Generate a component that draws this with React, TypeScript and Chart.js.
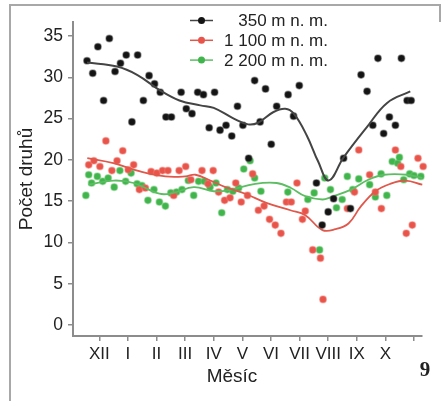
import React, { useEffect, useRef } from "react";
import { Chart, registerables } from "chart.js";

Chart.register(...registerables);

// ---- data ----
const monthLabels = ["XII", "I", "II", "III", "IV", "V", "VI", "VII", "VIII", "IX", "X", ""];
const yTickValues = [0, 5, 10, 15, 20, 25, 30, 35];
const seriesLabels = ["350 m n. m.", "1 100 m n. m.", "2 200 m n. m."];

const points350: [number, number][] = [
  [-0.43, 32.0], [-0.23, 30.5], [-0.05, 33.7], [0.15, 27.2], [0.35, 34.7], [0.55, 30.7],
  [0.74, 31.7], [0.94, 32.7], [1.14, 24.6], [1.34, 32.7], [1.54, 27.2], [1.74, 30.2],
  [1.93, 29.2], [2.13, 28.2], [2.33, 25.2], [2.52, 25.2], [2.86, 28.2], [3.04, 26.2],
  [3.24, 25.6], [3.44, 28.2], [3.64, 27.9], [3.84, 23.9], [4.03, 28.2], [4.22, 23.6],
  [4.43, 24.2], [4.63, 22.9], [4.83, 26.5], [5.02, 24.2], [5.22, 20.2], [5.43, 29.6],
  [5.62, 24.6], [5.81, 28.6], [6.01, 21.9], [6.2, 26.5], [6.6, 27.9], [6.79, 25.3],
  [6.99, 29.0], [7.59, 17.2], [7.79, 12.1], [8.0, 13.7], [8.19, 15.3], [8.54, 20.2],
  [8.78, 14.1], [9.15, 30.3], [9.36, 28.3], [9.56, 24.2], [9.74, 32.3], [9.94, 23.2],
  [10.14, 25.2], [10.35, 24.2], [10.56, 32.3], [10.76, 27.2], [10.9, 27.2],
];
const trend350: [number, number][] = [
  [-0.43, 31.8], [0.62, 31.3], [1.32, 30.3], [2.13, 28.4], [2.8, 27.2], [3.53, 26.6],
  [4.0, 26.3], [4.7, 25.0], [5.2, 24.3], [5.55, 24.5], [6.09, 25.8], [6.5, 26.2],
  [6.8, 25.6], [7.26, 22.9], [7.65, 19.8], [8.02, 17.5], [8.54, 20.3], [9.36, 24.0],
  [10.06, 26.9], [10.87, 28.3],
];

const points1100: [number, number][] = [
  [-0.37, 19.4], [-0.19, 19.9], [0.02, 19.2], [0.23, 22.3], [0.44, 18.7], [0.62, 19.9],
  [0.82, 21.1], [1.01, 18.8], [1.2, 19.4], [1.4, 16.4], [1.61, 16.6], [1.81, 18.6],
  [2.01, 18.4], [2.21, 18.7], [2.4, 18.7], [2.6, 15.7], [2.79, 18.7], [3.02, 19.2],
  [3.2, 17.6], [3.59, 18.7], [3.8, 17.1], [3.98, 18.7], [4.17, 16.1], [4.38, 15.1],
  [4.57, 15.4], [4.77, 17.2], [4.96, 14.9], [5.18, 15.7], [5.36, 18.3], [5.56, 13.9],
  [5.76, 14.4], [5.95, 12.8], [6.15, 12.1], [6.35, 11.1], [6.54, 14.9], [6.71, 14.9],
  [6.91, 17.2], [7.1, 12.8], [7.2, 13.8], [7.46, 9.1], [7.73, 8.1], [7.82, 3.1],
  [8.67, 14.1], [8.92, 16.1], [9.07, 21.2], [9.45, 18.2], [9.65, 16.1], [9.86, 14.1],
  [10.35, 21.2], [10.54, 19.2], [10.73, 11.1], [10.94, 12.1], [11.14, 20.2], [11.32, 19.2],
];
const trend1100: [number, number][] = [
  [-0.42, 20.2], [0.49, 19.6], [1.43, 18.6], [2.31, 18.0], [3.01, 18.0], [3.36, 18.2],
  [3.88, 17.5], [4.41, 16.7], [5.1, 15.9], [5.84, 14.8], [6.68, 13.9], [7.2, 13.3],
  [7.8, 11.5], [8.25, 11.6], [8.71, 12.3], [9.13, 14.3], [9.65, 16.2],
  [10.17, 17.1], [10.7, 17.5], [11.29, 17.0],
];

const points2200: [number, number][] = [
  [-0.47, 15.7], [-0.37, 18.2], [-0.27, 17.2], [-0.07, 18.0], [0.12, 17.4], [0.31, 17.8],
  [0.52, 16.7], [0.72, 18.7], [0.92, 17.4], [1.11, 18.4], [1.32, 17.1], [1.49, 16.9],
  [1.7, 15.1], [1.91, 16.4], [2.1, 14.9], [2.31, 14.4], [2.5, 16.0], [2.7, 16.1],
  [2.89, 16.4], [3.11, 17.5], [3.3, 15.7], [3.47, 17.4], [3.67, 17.4], [3.87, 16.7],
  [4.08, 17.2], [4.28, 13.6], [4.48, 16.4], [4.67, 16.2], [4.87, 16.6], [5.05, 18.9],
  [5.27, 19.9], [5.43, 17.8], [5.65, 16.2], [6.59, 16.1], [7.29, 15.2], [7.51, 16.0],
  [7.7, 9.1], [7.88, 17.8], [8.08, 16.4], [8.29, 14.2], [8.49, 15.2], [8.67, 18.0],
  [8.86, 16.4], [9.07, 17.7], [9.45, 17.0], [9.65, 15.5], [9.85, 18.3], [10.05, 15.7],
  [10.24, 19.8], [10.43, 19.6], [10.49, 20.3], [10.64, 17.6], [10.85, 18.3], [11.0, 18.1],
  [11.24, 18.0],
];
const trend2200: [number, number][] = [
  [-0.38, 17.0], [0.5, 17.5], [1.2, 17.2], [2.1, 15.9], [2.6, 16.0], [3.3, 16.7],
  [4.0, 16.2], [4.5, 16.3], [5.45, 17.1], [6.2, 17.2], [6.7, 16.6], [7.2, 15.6],
  [7.8, 15.2], [8.1, 15.5], [8.8, 16.4], [9.4, 17.6], [9.95, 18.2], [10.77, 18.2],
  [11.29, 17.8],
];

// ---- styles ----
const FONT = "'Liberation Sans', Arial, sans-serif";
const COLORS = {
  black: { point: "#141414", halo: "rgba(60,60,60,0.45)", line: "#444444" },
  red: { point: "#e9544a", halo: "rgba(240,120,110,0.45)", line: "#e0584b" },
  green: { point: "#3fb54c", halo: "rgba(110,200,115,0.45)", line: "#5dbd62" },
};
const seriesColors = [COLORS.black, COLORS.red, COLORS.green];

const toXY = (arr: [number, number][]) => arr.map(([x, y]) => ({ x, y }));

const decorPlugin = {
  id: "decor",
  beforeDraw(chart: any) {
    const ctx = chart.ctx;
    ctx.save();
    ctx.fillStyle = "#ffffff";
    ctx.fillRect(0, 0, chart.width, chart.height);
    ctx.strokeStyle = "#a8a8a8";
    ctx.lineWidth = 2;
    ctx.beginPath();
    ctx.moveTo(10, chart.height);
    ctx.lineTo(10, 5);
    ctx.lineTo(440, 5);
    ctx.lineTo(440, 22);
    ctx.stroke();
    ctx.restore();
  },
  afterDraw(chart: any) {
    const ctx = chart.ctx;
    ctx.save();
    ctx.fillStyle = "#222";
    ctx.font = `19px ${FONT}`;
    ctx.textAlign = "center";
    ctx.textBaseline = "middle";
    ctx.fillText("Měsíc", 232, 377);
    ctx.translate(27, 179);
    ctx.rotate(-Math.PI / 2);
    ctx.fillText("Počet druhů", 0, 0);
    ctx.restore();

    ctx.save();
    ctx.font = `17px ${FONT}`;
    ctx.textAlign = "right";
    ctx.textBaseline = "middle";
    seriesLabels.forEach((label, i) => {
      const y = 20.5 + i * 19.8;
      const c = seriesColors[i];
      ctx.strokeStyle = c.line;
      ctx.lineWidth = 1.5;
      ctx.beginPath();
      ctx.moveTo(190, y);
      ctx.lineTo(213, y);
      ctx.stroke();
      ctx.fillStyle = c.point;
      ctx.beginPath();
      ctx.arc(201.5, y, 3.5, 0, Math.PI * 2);
      ctx.fill();
      ctx.fillStyle = "#222";
      ctx.fillText(label, 328, y + 1);
    });
    ctx.font = `bold 21px 'Liberation Serif', 'DejaVu Serif', serif`;
    ctx.textAlign = "center";
    ctx.fillStyle = "#222";
    ctx.fillText("9", 425, 371);
    ctx.restore();
  },
};

function scatterSet(label: string, pts: [number, number][], c: any) {
  return {
    label,
    data: toXY(pts),
    showLine: false,
    pointRadius: 3.3,
    pointBackgroundColor: c.point,
    pointBorderColor: c.halo,
    pointBorderWidth: 1.5,
    clip: false as any,
  };
}
function trendSet(label: string, pts: [number, number][], c: any, width: number) {
  return {
    label,
    data: toXY(pts),
    showLine: true,
    borderColor: c.line,
    borderWidth: width,
    pointRadius: 0,
    tension: 0.4,
    fill: false,
    clip: false as any,
  };
}

export default function App() {
  const ref = useRef<HTMLCanvasElement | null>(null);
  useEffect(() => {
    if (!ref.current) return;
    const axisColor = "#8c8c8c";
    const chart = new Chart(ref.current, {
      type: "scatter",
      data: {
        datasets: [
          trendSet("t350", trend350, COLORS.black, 2),
          scatterSet(seriesLabels[0], points350, COLORS.black),
          trendSet("t1100", trend1100, COLORS.red, 1.8),
          trendSet("t2200", trend2200, COLORS.green, 1.8),
          scatterSet(seriesLabels[1], points1100, COLORS.red),
          scatterSet(seriesLabels[2], points2200, COLORS.green),
        ] as any,
      },
      options: {
        responsive: false,
        animation: false,
        devicePixelRatio: 1,
        layout: { padding: { left: 0, top: 22, right: 23, bottom: 0 } },
        plugins: { legend: { display: false }, tooltip: { enabled: false }, title: { display: false } },
        scales: {
          x: {
            type: "linear",
            min: -0.92,
            max: 11.28,
            afterBuildTicks: (s: any) => {
              s.ticks = monthLabels.map((_, i) => ({ value: i }));
            },
            afterFit: (s: any) => {
              s.height = 65;
            },
            ticks: {
              autoSkip: false,
              maxRotation: 0,
              padding: 3,
              color: "#222",
              font: { size: 17, family: FONT },
              callback: (_v: any, i: number) => monthLabels[i] ?? "",
            },
            grid: { drawOnChartArea: false, drawTicks: true, tickLength: 5, color: axisColor, lineWidth: 1.5 },
            border: { display: true, color: axisColor, width: 2 },
          },
          y: {
            type: "linear",
            min: -1.33,
            max: 36.7,
            afterBuildTicks: (s: any) => {
              s.ticks = yTickValues.map((v) => ({ value: v }));
            },
            afterFit: (s: any) => {
              s.width = 73;
            },
            ticks: { padding: 5, color: "#222", font: { size: 17.5, family: FONT } },
            grid: { drawOnChartArea: false, drawTicks: true, tickLength: 5, color: axisColor, lineWidth: 1.5 },
            border: { display: true, color: axisColor, width: 2 },
          },
        },
      },
      plugins: [decorPlugin],
    });
    return () => chart.destroy();
  }, []);
  return (
    <div style={{ position: "absolute", left: 0, top: 0, width: 445, height: 401, background: "#fff" }}>
      <canvas ref={ref} width={445} height={401} style={{ display: "block" }} />
    </div>
  );
}
